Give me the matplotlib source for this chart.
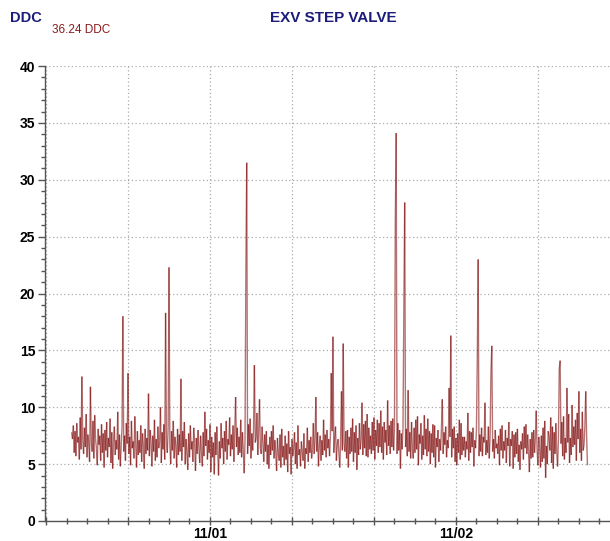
import numpy as np
import matplotlib
matplotlib.use("Agg")
import matplotlib.pyplot as plt
import matplotlib.dates as mdates
from matplotlib.collections import LineCollection
from matplotlib.ticker import MultipleLocator
import datetime as dt

# ---- data ----
start_time = "2023-10-31 10:30"
interval_minutes = 5
values = [
    7.8, 7.2, 8.4, 6.0, 7.9, 5.7, 8.6, 6.9, 7.4, 5.4, 9.1, 6.3, 12.7, 7.1, 5.9, 8.2, 6.5, 9.4, 5.6, 7.6,
    6.8, 5.2, 11.8, 7.0, 6.1, 8.8, 5.5, 9.3, 7.2, 6.4, 4.9, 8.1, 6.7, 7.5, 5.3, 8.5, 6.0, 7.7, 4.7, 8.0,
    6.2, 8.7, 5.6, 7.3, 6.5, 9.0, 5.1, 7.8, 4.6, 6.9, 8.3, 5.8, 7.1, 6.3, 9.6, 5.4, 7.6, 4.8, 6.6, 8.2,
    18.0, 6.1, 7.5, 5.3, 8.6, 6.8, 13.0, 5.9, 7.4, 4.9, 8.8, 6.4, 7.0, 5.5, 9.2, 6.7, 4.7, 7.9, 5.8, 7.1,
    6.0, 8.4, 5.2, 7.7, 6.6, 4.6, 8.1, 5.9, 7.3, 6.2, 11.2, 5.7, 8.0, 6.9, 4.8, 7.5, 6.1, 8.9, 5.3, 7.2,
    5.6, 8.3, 6.4, 7.0, 10.0, 5.1, 7.8, 6.3, 8.5, 5.4, 18.3, 7.1, 6.0, 8.2, 22.3, 6.7, 5.0, 7.9, 6.2, 8.8,
    5.5, 7.4, 6.6, 4.7, 8.1, 5.8, 7.6, 6.1, 12.5, 5.3, 7.9, 6.5, 8.7, 5.0, 7.2, 6.0, 4.5, 7.7, 5.6, 8.4,
    6.3, 7.0, 5.2, 8.2, 6.8, 4.4, 7.3, 5.9, 8.0, 6.4, 5.1, 7.5, 6.2, 4.8, 7.8, 5.7, 9.6, 6.6, 8.1, 5.4,
    7.1, 6.0, 8.5, 4.3, 7.4, 5.6, 6.9, 4.1, 7.8, 5.8, 8.3, 6.2, 4.0, 7.0, 5.5, 8.6, 6.4, 7.3, 5.0, 7.9,
    6.1, 8.8, 5.4, 7.2, 6.7, 9.1, 5.7, 7.6, 6.3, 8.4, 5.2, 7.9, 10.9, 6.5, 8.2, 5.8, 7.4, 6.0, 8.9, 5.6,
    7.8, 6.3, 4.2, 7.0, 21.6, 31.5, 5.9, 8.5, 6.6, 9.0, 5.5, 7.7, 6.2, 8.1, 13.7, 6.9, 7.3, 9.5, 5.8, 8.0,
    10.7, 6.4, 5.9, 8.3, 6.8, 5.2, 7.6, 6.1, 7.9, 5.0, 6.7, 4.6, 7.4, 5.8, 7.9, 6.2, 8.4, 5.5, 7.1, 6.0,
    4.4, 7.3, 6.0, 5.3, 7.6, 4.7, 8.1, 5.6, 6.6, 4.9, 7.5, 5.4, 6.8, 4.3, 7.9, 5.9, 6.5, 4.1, 7.2, 5.7,
    6.5, 7.8, 5.0, 6.9, 4.6, 8.4, 5.8, 6.3, 4.8, 7.0, 6.1, 5.3, 7.7, 4.6, 6.4, 5.9, 8.2, 5.2, 7.1, 6.0,
    7.4, 5.5, 6.3, 8.6, 5.9, 7.2, 10.9, 6.1, 7.8, 4.8, 6.6, 7.5, 5.3, 7.1, 5.8, 8.9, 6.2, 7.6, 5.6, 8.0,
    6.4, 7.2, 5.7, 7.5, 13.0, 7.9, 16.2, 6.0, 7.3, 8.3, 5.3, 6.7, 7.2, 5.9, 4.7, 7.4, 11.4, 6.2, 15.6, 6.8,
    6.1, 7.9, 5.5, 8.0, 4.7, 7.4, 5.9, 8.2, 6.1, 9.0, 5.2, 7.8, 6.0, 8.4, 4.5, 7.3, 5.8, 8.6, 6.3, 7.1,
    10.4, 5.8, 8.5, 6.4, 8.8, 5.7, 9.4, 5.6, 8.2, 6.3, 7.5, 5.9, 8.7, 6.2, 9.1, 5.4, 8.0, 6.6, 8.9, 6.0,
    8.6, 6.5, 9.7, 6.0, 8.3, 5.4, 8.7, 6.9, 8.0, 5.8, 10.6, 6.6, 8.4, 5.9, 8.8, 6.5, 9.0, 6.2, 8.1, 26.2,
    34.1, 5.9, 8.6, 6.2, 8.0, 4.6, 7.7, 6.3, 8.2, 18.4, 28.0, 6.5, 8.1, 5.7, 11.5, 6.1, 7.8, 5.5, 8.7, 6.4,
    5.5, 8.2, 6.0, 8.9, 6.3, 9.2, 4.9, 7.6, 6.8, 8.6, 5.4, 7.5, 5.8, 9.3, 6.3, 8.1, 5.7, 9.0, 6.1, 7.9,
    5.0, 7.7, 6.0, 8.5, 5.6, 8.4, 4.7, 7.3, 6.5, 8.0, 5.2, 7.2, 6.2, 8.1, 10.7, 5.9, 7.8, 6.7, 8.3, 5.6,
    7.1, 6.4, 11.7, 7.4, 16.3, 5.6, 8.1, 6.4, 8.3, 5.2, 7.3, 4.9, 7.7, 6.0, 8.9, 5.4, 8.6, 5.8, 7.4, 6.2,
    7.4, 5.6, 7.0, 6.3, 9.5, 5.3, 7.9, 6.0, 7.8, 6.5, 8.2, 4.8, 7.1, 6.4, 8.0, 14.2, 23.0, 5.7, 7.6, 6.1,
    8.2, 5.7, 7.4, 6.9, 10.4, 5.8, 7.1, 6.0, 8.3, 5.5, 7.5, 13.0, 15.4, 6.1, 7.2, 5.5, 8.0, 6.4, 6.8, 5.9,
    7.5, 4.9, 8.1, 6.2, 8.4, 5.5, 7.0, 6.2, 8.0, 5.1, 7.3, 6.6, 8.7, 4.8, 7.2, 6.6, 7.9, 4.6, 7.6, 5.6,
    7.8, 5.9, 8.1, 5.2, 6.7, 4.5, 7.0, 6.3, 7.7, 5.4, 8.3, 6.4, 8.5, 5.9, 7.6, 6.1, 4.3, 7.2, 5.5, 7.8,
    5.6, 8.0, 6.0, 7.1, 9.7, 6.3, 4.9, 7.4, 6.4, 4.7, 7.5, 5.2, 8.2, 5.5, 8.8, 3.8, 6.6, 5.0, 7.9, 7.4,
    6.2, 9.1, 5.1, 8.3, 4.6, 7.8, 5.9, 8.6, 6.1, 4.8, 7.2, 13.4, 14.1, 6.8, 8.7, 5.7, 9.2, 5.4, 7.3, 6.0,
    11.7, 6.9, 9.4, 5.1, 7.3, 5.8, 10.2, 6.5, 8.3, 6.7, 8.9, 5.3, 9.5, 7.2, 11.4, 6.0, 8.1, 5.3, 9.6, 6.2,
    6.7, 8.4, 11.4, 7.5, 4.9,
]
x_range = ("2023-10-31 07:54", "2023-11-02 15:02")
y_ticks = [0, 5, 10, 15, 20, 25, 30, 35, 40]
title = "EXV STEP VALVE"
unit_label = "DDC"
current_label = "36.24 DDC"

# ---- figure ----
W, H = 610, 541
fig = plt.figure(figsize=(W / 100, H / 100), dpi=100)
ax = fig.add_axes([45 / W, 20 / H, (W - 45) / W, 455 / H])

t0 = dt.datetime.strptime(start_time, "%Y-%m-%d %H:%M")
times = [t0 + dt.timedelta(minutes=interval_minutes * i) for i in range(len(values))]
xn = mdates.date2num(times)
pts = np.column_stack([xn, values])
segs = np.stack([pts[:-1], pts[1:]], axis=1)
lc = LineCollection(segs, colors="#7a0000", linewidths=1.0, alpha=0.55)
ax.add_collection(lc)

xl0 = mdates.date2num(dt.datetime.strptime(x_range[0], "%Y-%m-%d %H:%M"))
xl1 = mdates.date2num(dt.datetime.strptime(x_range[1], "%Y-%m-%d %H:%M"))
ax.set_xlim(xl0, xl1)
ax.set_ylim(y_ticks[0], y_ticks[-1])

ax.set_yticks(y_ticks)
ax.yaxis.set_minor_locator(MultipleLocator(1))
ax.xaxis.set_major_locator(mdates.HourLocator(byhour=[0, 8, 16]))
ax.xaxis.set_minor_locator(mdates.HourLocator(interval=2))

def fmt(x, pos=None):
    d = mdates.num2date(x)
    return d.strftime("%m/%d") if d.hour == 0 else ""
ax.xaxis.set_major_formatter(plt.FuncFormatter(fmt))

for s in ["top", "right"]:
    ax.spines[s].set_visible(False)
for s in ["left", "bottom"]:
    ax.spines[s].set_color("#555555")
    ax.spines[s].set_linewidth(1.0)

ax.grid(True, which="major", color="#aaaaaa", linestyle=(0, (1, 2)), linewidth=0.9)
ax.tick_params(axis="y", which="major", length=5, width=1, color="#555555", labelsize=10, pad=2)
ax.tick_params(axis="y", which="minor", length=3, width=1, color="#555555")
ax.tick_params(axis="x", which="major", direction="inout", length=6, width=1, color="#555555", labelsize=10, pad=1)
ax.tick_params(axis="x", which="minor", direction="inout", length=4, width=1, color="#555555")
for lab in ax.get_xticklabels() + ax.get_yticklabels():
    lab.set_fontweight("bold")
    lab.set_fontfamily("Liberation Sans")

fig.text(10 / W, 1 - 18 / H, unit_label, color="#1c1c7a", fontsize=10.5, fontweight="bold",
         family="Liberation Sans", va="center", ha="left")
fig.text(52 / W, 1 - 30 / H, current_label, color="#8b1a1a", fontsize=8.5,
         family="Liberation Sans", va="center", ha="left")
fig.text(333 / W, 1 - 18 / H, title, color="#1c1c7a", fontsize=11, fontweight="bold",
         family="Liberation Sans", va="center", ha="center")

fig.savefig("out.png", dpi=100)
